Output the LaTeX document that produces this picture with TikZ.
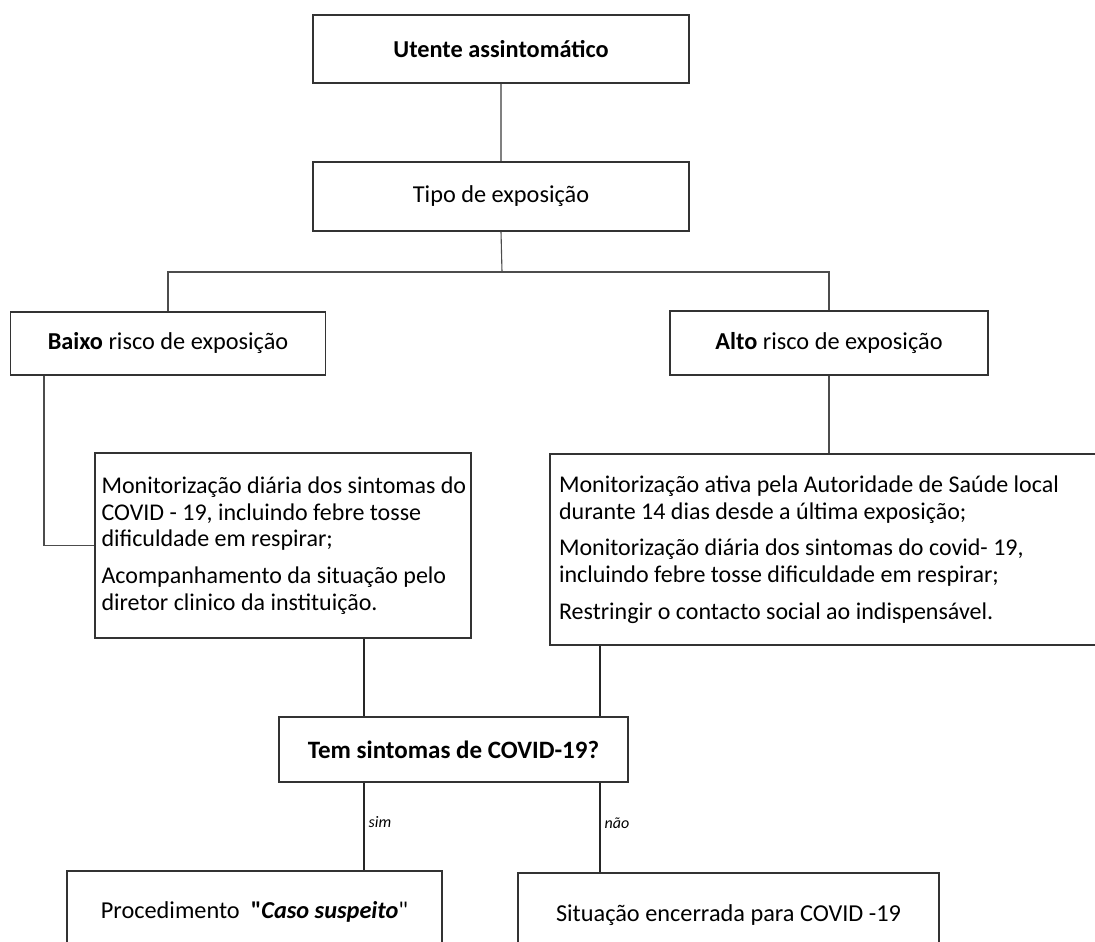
\documentclass[tikz,border=0pt]{standalone}
\usepackage{fontspec}
\setmainfont{Carlito}[Ligatures=TeXOff]
\newcommand{\natsp}{\spaceskip=0pt\relax\xspaceskip=0pt\relax}
\begin{document}
\begin{tikzpicture}[x=1pt,y=-1pt,
  box/.style={draw=black!80, line width=1.3pt, inner sep=0pt, fill=white,
    font=\fontsize{24.3}{28}\selectfont, align=center},
  dtext/.style={anchor=west, inner sep=0pt, align=left, font=\fontsize{24}{26.7}\selectfont},
  conn/.style={line width=1.3pt, draw=black!85},
  thin/.style={line width=1.1pt, draw=black!70},
  lab/.style={font=\fontsize{16}{18}\selectfont\itshape, inner sep=4pt}
]
\useasboundingbox[fill=white] (0,0) rectangle (1095,942);
\node[box, minimum width=376, minimum height=68] (utente) at (501,49) {\textbf{Utente assintomático}};
\node[box, minimum width=376, minimum height=69] (tipo) at (501,196.5) {Tipo de exposição};
\node[box, minimum width=314.5, minimum height=63] (baixo) at (168,343.5) {\textbf{Baixo} risco de exposição};
\node[box, minimum width=318, minimum height=64] (alto) at (829,343) {\textbf{Alto} risco de exposição};
\node[box, minimum width=376, minimum height=185] (bdet) at (283,545.5) {};
\node[dtext] (bdettext) at ([xshift=7pt]bdet.west) {\natsp Monitorização diária dos sintomas do\\ \natsp COVID - 19, incluindo febre tosse\\ \natsp dificuldade em respirar;\\[10pt] \natsp Acompanhamento da situação pelo\\ \natsp diretor clinico da instituição.};
\node[box, minimum width=560, minimum height=191] (adet) at (830,549.5) {};
\node[dtext] (adettext) at ([xshift=9.5pt]adet.west) {\natsp Monitorização ativa pela Autoridade de Saúde local\\ \natsp durante 14 dias desde a última exposição;\\[10pt] \natsp Monitorização diária dos sintomas do covid- 19,\\ \natsp incluindo febre tosse dificuldade em respirar;\\[10pt] \natsp Restringir o contacto social ao indispensável.};
\node[box, minimum width=349, minimum height=65, font=\fontsize{25}{28}\selectfont] (tem) at (453.5,749.5) {\textbf{Tem sintomas de COVID-19?}};
\node[box, minimum width=375, minimum height=82] (proc) at (254.5,912) {Procedimento\ \ \textbf{"\textit{Caso suspeito}}"};
\node[box, minimum width=421, minimum height=84] (sit) at (728.5,915) {Situação encerrada para COVID -19};
\coordinate (split) at (502,272);
\coordinate (xL) at (364,0);
\coordinate (xR) at (600,0);
\coordinate (xB) at (44,0);
\draw[line width=1.3pt, draw=black!50] (utente.south) -- (tipo.north);
\draw[thin] (tipo.south) -- (split);
\draw[thin] (baixo.north) |- (split) -| (alto.north);
\draw[thin] (alto.south) -- (alto.south |- adet.north);
\draw[thin] (baixo.south -| xB) |- (bdet.west);
\draw[conn] (bdet.south -| xL) -- (tem.north -| xL);
\draw[conn] (adet.south -| xR) -- (tem.north -| xR);
\draw[conn] (tem.south -| xL) -- node[lab, right, pos=0.45] {sim} (proc.north -| xL);
\draw[conn] (tem.south -| xR) -- node[lab, right, pos=0.45] {não} (sit.north -| xR);
\end{tikzpicture}
\end{document}
